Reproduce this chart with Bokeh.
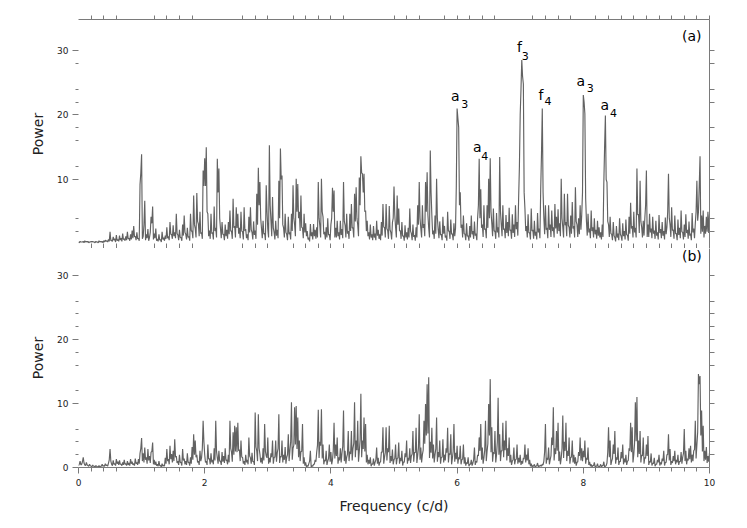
import numpy as np
from bokeh.plotting import figure
from bokeh.layouts import column
from bokeh.models import Range1d, LinearAxis, FixedTicker, ColumnDataSource
from bokeh.core.properties import value
from bokeh.embed import file_html
from bokeh.resources import INLINE

# ---------------- data (power) ----------------
# pa*/pb*: power on a 0.025 c/d grid (one list per 1 c/d);
# ta*/tb*: power read half-way between those grid points (0.0125 c/d offset)

# panel (a)
pa0 = [0.3,0.4,0.3,0.4,0.5,0.4,0.4,0.3,0.4,0.4, 0.3,0.4,0.3,0.5,0.4,0.4,0.5,0.6,0.5,0.7,
       1.9,0.6,1.1,0.8,1.4,0.7,1.3,0.9,1.6,0.8, 1.2,1.9,0.9,1.5,2.1,2.8,1.2,1.8,0.9,9.2]
pa1 = [13.9,1.2,6.7,1.5,2.3,1.0,4.2,5.8,1.6,2.4, 0.8,1.5,0.7,1.9,1.0,1.3,2.6,1.2,3.4,1.5,
       2.9,1.8,4.7,1.4,2.2,1.0,3.0,4.4,1.5,2.5, 1.2,4.7,2.0,7.5,2.4,7.9,3.1,5.0,1.8,11.4]
pa2 = [13.3,15.0,4.7,2.1,4.7,1.8,5.8,2.5,13.2,11.7, 2.4,3.4,1.5,3.0,2.2,3.4,5.2,2.0,7.0,2.8,
       5.7,4.7,2.5,5.0,1.9,5.7,2.3,1.5,4.2,5.7, 1.8,3.5,2.1,7.8,11.8,9.6,2.4,3.6,1.7,9.1]
pa3 = [2.3,15.3,3.6,7.3,1.8,3.6,2.2,9.8,14.8,10.6, 2.5,4.7,1.5,4.2,1.8,4.7,9.1,3.0,10.1,9.3,
       5.0,7.5,2.5,4.7,3.2,2.0,1.0,3.1,1.8,3.1, 2.2,2.6,9.6,2.8,10.1,4.2,1.9,2.6,4.0,1.5]
pa4 = [3.0,8.7,8.3,2.5,3.6,1.8,3.6,2.3,9.6,2.9, 4.7,2.0,4.7,6.2,2.5,7.8,8.8,3.0,10.3,13.6,
       10.9,10.9,5.2,3.6,1.8,3.0,1.5,2.8,1.6,3.6, 2.2,1.5,3.4,6.2,2.6,6.2,2.1,5.9,1.8,3.3]
pa5 = [8.9,2.6,7.5,5.5,2.1,3.4,1.3,2.9,1.8,2.5, 5.5,1.6,3.0,1.4,2.6,6.0,9.6,2.4,6.0,3.1,
       9.6,11.1,2.5,14.5,4.4,2.1,4.4,10.1,2.3,3.5, 1.5,4.2,2.8,1.3,5.0,2.0,3.8,1.6,3.2,2.4]
pa6 = [21.0,18.1,8.0,3.0,4.4,1.5,3.2,1.3,2.8,4.4, 2.0,3.5,1.6,4.0,13.2,8.5,3.0,6.0,2.4,6.0,
       10.1,13.3,3.2,5.5,2.0,4.8,2.6,13.5,3.0,6.0, 2.4,4.5,3.4,5.6,2.2,4.6,3.0,6.0,3.4,7.0]
pa7 = [20.0,28.5,24.8,5.5,2.8,4.6,1.8,5.5,2.2,3.6, 1.9,4.8,2.4,8.5,21.0,4.0,6.0,2.5,6.0,3.0,
       5.2,2.6,6.2,4.2,5.4,3.2,10.1,2.6,7.8,3.4, 7.8,2.6,4.4,6.5,2.8,8.8,3.0,4.0,6.0,4.5]
pa8 = [23.1,20.2,3.5,4.7,2.4,5.2,2.6,4.0,2.2,3.6, 2.6,1.8,3.0,9.3,19.9,9.6,3.0,4.2,1.5,3.4,
       1.0,2.8,1.6,4.0,1.2,3.2,2.0,3.8,1.4,4.2, 6.4,2.8,5.0,2.5,11.7,4.6,9.8,2.6,3.6,4.0]
pa9 = [11.4,3.0,4.7,2.4,4.2,2.1,3.6,1.8,4.5,2.3, 3.4,2.0,4.1,2.6,10.9,3.0,5.7,2.2,4.4,1.6,
       3.8,2.5,5.2,1.8,3.0,4.6,2.2,3.5,1.6,4.8, 2.4,3.2,9.8,5.0,13.6,4.4,5.2,2.8,4.2,5.0, 4.6]

ta0 = [0.2,0.3,0.3,0.2,0.3,0.3,0.2,0.3,0.3,0.3, 0.2,0.3,0.2,0.3,0.3,0.2,0.3,0.4,0.3,0.4,
       0.5,0.4,0.6,0.3,0.5,0.4,0.6,0.4,0.7,0.5, 0.6,0.8,0.5,0.7,0.9,1.1,0.6,0.8,0.5,11.0]
ta1 = [0.8,3.0,0.6,0.9,0.5,1.8,3.2,0.7,0.9,0.5, 0.4,0.6,0.3,0.7,0.5,0.8,0.9,0.6,1.5,0.8,
       1.2,0.9,1.6,0.6,1.0,0.5,1.3,1.8,0.7,1.0, 0.5,2.0,0.9,3.0,1.0,3.5,1.2,1.6,0.8,9.0]
ta2 = [9.0,5.0,1.2,0.8,1.6,0.7,2.0,1.0,8.0,4.0, 0.9,1.5,0.6,1.2,0.8,1.5,2.0,0.8,2.5,1.0,
       2.5,1.6,0.9,2.0,0.7,2.0,0.9,0.6,1.8,2.2, 0.7,1.4,0.8,3.0,6.0,4.0,0.9,1.5,0.6,5.0]
ta3 = [1.0,6.0,1.2,2.5,0.7,1.3,0.9,4.0,10.0,3.0, 1.0,1.8,0.6,1.5,0.7,2.0,4.0,1.2,5.0,4.0,
       2.0,2.6,0.9,1.8,1.2,0.7,0.4,1.2,0.7,1.2, 0.8,1.0,4.0,1.0,5.0,1.5,0.7,1.0,1.4,0.6]
ta4 = [4.0,5.0,1.0,1.0,1.2,0.7,1.4,0.9,3.5,1.0, 1.6,0.8,2.0,2.5,1.0,3.5,4.0,1.2,6.0,11.0,
       8.0,5.0,2.0,1.2,0.7,1.0,0.6,1.0,0.6,1.3, 0.8,0.6,1.3,2.6,1.0,2.4,0.8,2.2,0.7,4.0]
ta5 = [4.5,1.0,3.0,2.0,0.8,1.2,0.5,1.0,0.7,1.0, 2.0,0.6,1.1,0.5,1.0,3.0,4.0,1.0,2.5,1.2,
       5.0,4.5,1.0,8.0,1.5,0.8,1.6,4.0,0.9,1.4, 0.6,1.6,1.0,0.5,2.0,0.8,1.5,0.6,1.2,9.0]
ta6 = [19.5,6.0,2.5,1.0,1.6,0.6,1.2,0.5,1.0,1.5, 0.8,1.3,0.6,6.0,4.0,2.5,1.1,2.2,0.9,2.5,
       4.0,5.0,1.2,2.0,0.8,1.8,1.0,5.0,1.2,2.2, 0.9,1.7,1.2,2.1,0.8,1.7,1.1,2.3,1.3,12.0]
ta7 = [24.0,26.0,8.0,2.0,1.0,1.7,0.7,2.0,0.8,1.3, 0.7,1.8,0.9,14.0,8.0,1.5,2.2,0.9,2.2,1.1,
       2.0,1.0,2.4,1.6,2.0,1.2,4.0,1.0,2.9,1.2, 2.9,1.0,1.6,2.4,1.0,3.5,1.1,1.5,2.2,8.0]
ta8 = [22.0,7.0,1.3,1.8,0.9,2.0,1.0,1.5,0.8,1.3, 1.0,0.7,1.1,15.0,10.0,3.5,1.1,1.6,0.6,1.3,
       0.4,1.0,0.6,1.5,0.5,1.2,0.7,1.4,0.5,1.6, 2.4,1.0,1.8,1.0,4.5,1.7,3.5,1.0,1.3,6.0]
ta9 = [1.1,1.1,1.8,0.9,1.6,0.8,1.3,0.7,1.7,0.9, 1.3,0.7,1.5,5.0,4.0,1.1,2.1,0.8,1.6,0.6,
       1.4,0.9,1.9,0.7,1.1,1.7,0.8,1.3,0.6,1.8, 0.9,5.0,3.6,9.0,1.6,1.9,1.0,1.6,1.9,1.7]

# panel (b)
pb0 = [0.3,1.0,0.5,1.6,0.4,0.8,0.3,0.5,0.2,0.4, 0.2,0.3,0.1,0.3,0.2,0.5,0.3,0.6,0.4,0.7,
       2.9,0.5,1.1,0.6,1.3,0.9,1.1,0.5,0.8,1.2, 0.6,1.0,0.7,1.3,0.9,0.6,1.4,0.8,1.3,2.2]
pb1 = [4.6,2.2,3.1,1.6,2.9,1.8,2.4,3.9,1.2,0.9, 0.5,1.0,0.3,0.6,0.4,1.5,2.9,1.3,3.4,2.1,
       2.6,4.4,1.8,1.0,2.0,0.8,2.9,1.4,1.0,2.2, 0.8,1.6,3.2,5.2,4.2,2.0,1.0,2.6,1.5,7.3]
pb2 = [2.0,1.0,3.6,1.4,2.2,1.2,3.0,7.3,1.5,2.6, 1.0,2.4,1.8,3.0,1.2,2.0,7.3,2.4,5.5,6.5,
       6.3,7.0,2.8,4.2,1.6,1.0,2.0,1.2,4.7,1.5, 2.3,1.0,8.6,2.6,8.3,2.1,1.5,3.0,6.8,1.8]
pb3 = [4.7,1.5,2.2,4.2,1.6,4.2,2.3,8.3,1.8,4.2, 2.0,3.2,1.6,5.2,2.6,10.2,3.0,9.4,9.6,7.8,
       4.2,2.5,6.8,1.6,0.8,0.3,0.6,2.6,0.3,0.5, 1.2,2.4,9.0,4.0,9.1,3.6,1.2,2.6,1.0,3.6]
pb4 = [2.4,1.2,7.0,3.6,4.7,1.6,3.0,2.2,8.9,2.6, 1.6,5.7,2.5,5.7,3.0,10.2,4.2,7.3,2.5,11.5,
       4.2,7.8,6.8,2.0,1.2,1.6,0.6,1.4,0.8,3.1, 1.5,0.8,2.4,6.3,1.6,6.3,3.0,6.5,1.8,2.8]
pb5 = [1.2,3.6,1.4,3.9,1.5,2.6,0.9,2.2,4.2,1.5, 3.0,1.8,5.7,2.4,6.2,1.8,8.3,3.1,2.0,7.3,
       9.9,13.0,14.1,4.0,6.2,3.6,2.0,7.8,2.4,4.2, 1.6,4.4,2.0,3.0,6.2,2.2,5.2,1.4,6.8,2.3]
pb6 = [3.4,1.6,3.4,1.2,3.6,1.6,0.8,1.6,0.5,1.2, 0.7,3.1,1.0,2.0,4.7,6.8,3.1,1.5,7.3,2.5,
       9.9,13.8,6.3,2.4,5.7,2.0,10.9,5.2,2.6,7.0, 4.2,7.3,3.0,4.7,2.0,1.0,3.1,1.2,3.6,1.5]
pb7 = [2.0,1.0,1.5,3.6,2.0,3.0,1.2,0.6,0.3,0.5, 0.2,0.7,0.3,0.4,0.5,1.0,6.8,1.5,3.1,1.2,
       4.7,9.4,3.0,5.7,7.0,2.5,1.4,8.1,4.0,7.0, 2.6,4.7,1.6,4.2,2.0,1.6,0.8,2.4,4.7,3.0]
pb8 = [2.6,4.2,1.5,3.1,0.9,0.5,0.3,0.8,0.2,0.6, 0.1,0.5,0.3,0.9,0.2,0.7,6.3,4.2,1.0,3.6,
       5.7,1.6,3.1,1.0,2.4,3.6,1.4,2.0,1.0,3.0, 7.0,6.3,2.0,10.2,11.0,4.2,5.7,2.0,4.7,1.6]
pb9 = [3.6,4.9,1.0,2.2,0.7,1.5,0.5,1.2,2.0,0.8, 1.4,2.6,0.8,2.0,5.2,2.9,1.0,1.8,2.6,1.2,
       2.0,1.0,2.4,1.6,6.0,2.6,1.4,3.0,3.4,2.0, 2.6,7.3,3.5,14.6,14.3,8.9,6.5,2.6,3.2,1.8, 2.3]

tb0 = [0.5,0.4,0.9,0.7,0.3,0.4,0.2,0.3,0.1,0.2, 0.1,0.2,0.1,0.1,0.2,0.2,0.2,0.3,0.2,1.2,
       1.0,0.3,0.5,0.3,0.6,0.4,0.5,0.3,0.4,0.5, 0.3,0.4,0.3,0.6,0.4,0.3,0.6,0.4,0.6,3.0]
tb1 = [1.0,0.8,1.2,0.6,1.1,0.7,2.5,0.5,0.4,0.3, 0.2,0.3,0.1,0.2,0.2,0.6,1.0,0.5,1.3,0.8,
       1.0,1.6,0.7,0.4,0.8,0.3,1.1,0.5,0.4,0.8, 0.3,0.6,1.2,2.0,1.6,0.8,0.4,1.0,3.0,4.0]
tb2 = [0.8,0.4,1.3,0.5,0.8,0.5,1.1,2.5,0.6,1.0, 0.4,0.9,0.7,1.1,0.5,0.8,3.0,0.9,2.0,2.5,
       2.4,2.6,1.0,1.6,0.6,0.4,0.8,0.5,1.8,0.6, 0.9,0.4,3.2,1.0,3.0,0.8,0.6,1.1,2.5,1.5]
tb3 = [0.6,0.8,1.6,0.6,1.6,0.9,3.0,0.7,1.6,0.8, 1.2,0.6,2.0,1.0,4.0,1.2,3.5,3.6,2.9,1.6,
       1.0,2.5,0.6,0.3,0.1,0.2,1.0,0.1,0.2,0.5, 0.9,3.5,1.5,3.4,1.4,0.5,1.0,0.4,1.4,0.9]
tb4 = [0.5,2.6,1.4,1.8,0.6,1.1,0.8,3.3,1.0,0.6, 2.1,1.0,2.1,1.1,3.8,1.6,2.7,0.9,4.3,1.6,
       2.9,2.5,0.8,0.5,0.6,0.2,0.5,0.3,1.2,0.6, 0.3,0.9,2.4,0.6,2.4,1.1,2.4,0.7,1.0,0.5]
tb5 = [1.4,0.5,1.5,0.6,1.0,0.3,0.8,1.6,0.6,1.1, 0.7,2.1,0.9,2.3,0.7,3.1,1.2,0.8,2.7,3.7,
       5.0,5.3,1.5,2.3,1.4,0.8,2.9,0.9,1.6,0.6, 1.6,0.8,1.1,2.3,0.8,2.0,0.5,2.5,0.9,1.3]
tb6 = [0.6,1.3,0.5,1.3,0.6,0.3,0.6,0.2,0.5,0.3, 1.2,0.4,0.8,1.8,2.6,1.2,0.6,2.7,1.0,3.7,
       5.0,2.4,0.9,2.1,0.8,4.0,2.0,1.0,2.6,1.6, 2.7,1.1,1.8,0.8,0.4,1.2,0.5,1.3,0.6,0.8]
tb7 = [0.4,0.6,1.3,0.8,1.1,0.5,0.2,0.1,0.2,0.1, 0.3,0.1,0.2,0.2,0.4,2.5,0.6,1.2,0.5,1.8,
       3.5,1.1,2.1,2.6,1.0,0.5,3.0,1.5,2.6,1.0, 1.8,0.6,1.6,0.8,0.6,0.3,0.9,1.8,1.1,1.0]
tb8 = [1.6,0.6,1.2,0.4,0.2,0.1,0.3,0.1,0.2,0.1, 0.2,0.1,0.3,0.1,0.3,2.4,1.6,0.4,1.4,2.1,
       0.6,1.2,0.4,0.9,1.4,0.5,0.8,0.4,1.1,2.6, 2.4,0.8,3.8,4.1,1.6,2.1,0.8,1.8,0.6,1.4]
tb9 = [1.8,0.4,0.8,0.3,0.6,0.2,0.5,0.8,0.3,0.5, 1.0,0.3,0.8,2.0,1.1,0.4,0.7,1.0,0.5,0.8,
       0.4,0.9,0.6,2.2,1.0,0.5,1.1,1.3,0.8,1.0, 2.8,1.4,5.5,13.0,5.0,2.5,1.0,1.2,0.7,0.9]


def merge(grid_rows, half_rows):
    """Put the grid readings and the half-step readings in frequency order."""
    out = []
    for g, h in zip(grid_rows, half_rows):
        for a, b in zip(g, h):
            out.append(a)
            out.append(b)
    out.append(grid_rows[-1][-1])
    return out


power_a = merge([pa0, pa1, pa2, pa3, pa4, pa5, pa6, pa7, pa8, pa9],
                [ta0, ta1, ta2, ta3, ta4, ta5, ta6, ta7, ta8, ta9])
power_b = merge([pb0, pb1, pb2, pb3, pb4, pb5, pb6, pb7, pb8, pb9],
                [tb0, tb1, tb2, tb3, tb4, tb5, tb6, tb7, tb8, tb9])
freq_a = np.linspace(0.0, 10.0, len(power_a))
freq_b = np.linspace(0.0, 10.0, len(power_b))

# peak identifications in panel (a)
peak_main = ["a", "a", "f", "f", "a", "a"]
peak_sub = ["3", "4", "3", "4", "3", "4"]

# tick sets
x_major = [0, 2, 4, 6, 8, 10]
x_minor = [0.2, 0.4, 0.6, 1.2, 1.4, 1.6, 1.8, 2.6, 2.8, 3.0, 3.4, 3.6, 3.8, 4.2,
           5.0, 5.2, 5.4, 5.8, 6.2, 6.4, 6.6, 7.2, 7.4, 7.6, 7.8, 8.2, 8.4, 8.6,
           8.8, 9.0, 9.2, 9.4, 9.6, 9.8]
x_top_ticks = [4, 6, 10] + x_minor
ya_major = [10, 20, 30]
ya_minor = [2, 4, 12, 16, 18, 22, 24, 28]
ya_right = [2, 4, 10, 12, 16, 18, 22, 24, 28, 30]
yb_major = [0, 10, 20, 30]
yb_minor = [2, 4, 6, 12, 16, 18, 22, 24, 26]
yb_right = [2, 4, 6, 10, 12, 16, 18, 20, 22, 24, 26, 30]

# ---------------- style ----------------
FONT = "DejaVu Sans"
AX = "#7a7a7a"
LINE = "#626262"
TXT = "#222222"


def labelled_axis(ax, major_out, minor_out, show_line):
    ax.major_tick_in = 0
    ax.minor_tick_in = 0
    ax.major_tick_out = major_out
    ax.minor_tick_out = minor_out
    ax.major_tick_line_color = AX
    ax.minor_tick_line_color = AX
    ax.axis_line_color = AX if show_line else None
    ax.major_label_text_font = FONT
    ax.major_label_text_color = TXT
    ax.major_label_text_font_size = "9px"
    ax.major_label_standoff = 4
    ax.axis_label_text_font = FONT
    ax.axis_label_text_font_style = "normal"
    ax.axis_label_text_font_size = "14px"
    ax.axis_label_text_color = TXT


def bare_axis(ticks, tick_in, tick_out, show_line):
    # unlabelled axis: only short tick marks (no tick texts at all)
    ax = LinearAxis(ticker=FixedTicker(ticks=[], minor_ticks=ticks))
    ax.major_label_text_font_size = "9px"
    ax.major_label_standoff = 0
    ax.minor_tick_in = tick_in
    ax.minor_tick_out = tick_out
    ax.major_tick_in = 0
    ax.major_tick_out = 0
    ax.minor_tick_line_color = AX
    ax.axis_line_color = AX if show_line else None
    return ax


def make_panel(freq, power, yr, frame_h, is_top, left_major, left_minor, right_ticks,
               tag, tag_y):
    p = figure(frame_width=631, frame_height=frame_h,
               x_range=Range1d(0, 10), y_range=yr,
               output_backend="svg", toolbar_location=None,
               x_axis_location="below" if not is_top else None,
               min_border_left=78, min_border_right=26,
               min_border_top=19 if is_top else 0, min_border_bottom=0)
    p.outline_line_color = None
    p.grid.grid_line_color = None
    p.background_fill_color = "white"
    p.border_fill_color = "white"

    # left axis (labelled, no line)
    ly = p.yaxis[0]
    ly.ticker = FixedTicker(ticks=left_major, minor_ticks=left_minor)
    labelled_axis(ly, 6, 3, False)
    ly.axis_label = "Power"
    ly.axis_label_standoff = 8

    if is_top:
        p.add_layout(bare_axis(x_top_ticks, 0, 4, True), "above")
        p.add_layout(bare_axis(x_top_ticks, 5, 0, False), "below")
    else:
        bx = p.xaxis[0]
        bx.ticker = FixedTicker(ticks=x_major, minor_ticks=x_minor)
        labelled_axis(bx, 6, 4, True)
        bx.major_label_standoff = 5
        bx.axis_label = "Frequency (c/d)"
        bx.axis_label_standoff = 9

    p.add_layout(bare_axis(right_ticks, 0, 5, True), "right")

    p.line(freq, power, line_color=LINE, line_width=1.15)

    p.text(x=[9.72], y=[tag_y], text=[tag], text_font=value(FONT),
           text_font_size="14px", text_align="center", text_baseline="middle",
           text_color="black")
    return p


pa = make_panel(freq_a, power_a, Range1d(-0.7, 34.8), 229, True,
                ya_major, ya_minor, ya_right, "(a)", 32.3)
pb = make_panel(freq_b, power_b, Range1d(0, 34.2), 219, False,
                yb_major, yb_minor, yb_right, "(b)", 33.1)

# peak labels (letter and subscript)
main_src = ColumnDataSource(dict(
    x=[5.97, 6.32, 6.99, 7.33, 7.96, 8.34],
    y=[22.9, 15.0, 30.5, 23.1, 25.3, 21.5],
    t=peak_main))
sub_src = ColumnDataSource(dict(
    x=[6.12, 6.44, 7.08, 7.44, 8.11, 8.48],
    y=[21.7, 13.7, 29.2, 22.1, 24.2, 20.3],
    t=peak_sub))
pa.text(x="x", y="y", text="t", source=main_src, text_font=value(FONT),
        text_font_size="14px", text_align="center", text_baseline="middle",
        text_color="black")
pa.text(x="x", y="y", text="t", source=sub_src, text_font=value(FONT),
        text_font_size="11px", text_align="center", text_baseline="middle",
        text_color="black")

layout = column(pa, pb, spacing=0)
open("out.html", "w").write(file_html(layout, INLINE))
